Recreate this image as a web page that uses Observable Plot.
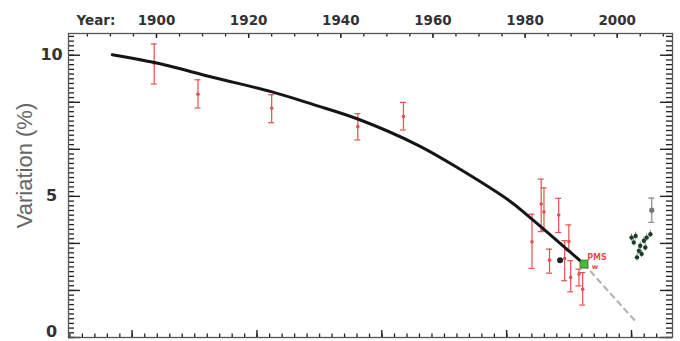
<!DOCTYPE html>
<html>
<head>
<meta charset="utf-8">
<script src="https://cdn.jsdelivr.net/npm/d3@7"></script>
<script src="https://cdn.jsdelivr.net/npm/@observablehq/plot@0.6"></script>
<style>
  body { margin: 0; background: #fff; }
  #chart svg { display: block; }
</style>
</head>
<body>
<div id="chart"></div>
<script>
// Historical measurements (red, with error bars)
const redYear = [1899.5, 1909, 1925, 1943.7, 1953.6, 1981.5, 1983.5, 1984.1, 1985.3, 1987.3, 1988.6, 1989.5, 1989.9, 1991.7, 1992.5];
const redValue = [9.72, 8.62, 8.12, 7.47, 7.83, 3.39, 4.73, 4.45, 2.74, 4.34, 2.8, 3.4, 2.13, 2.25, 1.71];
const redLow = [8.98, 8.13, 7.61, 7.0, 7.35, 2.45, 3.75, 3.8, 2.28, 3.72, 2.01, 3.07, 1.62, 1.83, 1.15];
const redHigh = [10.4, 9.13, 8.6, 7.93, 8.33, 4.37, 5.61, 5.3, 3.13, 4.93, 3.43, 3.99, 2.72, 2.42, 2.3];

// Model trend (solid) and its extrapolation (dashed)
const trendYear = [1890.4, 1899.6, 1912.4, 1924.9, 1934.1, 1943.7, 1956.9, 1966, 1976.8, 1981.1, 1992.8];
const trendValue = [10.02, 9.74, 9.21, 8.71, 8.25, 7.74, 6.8, 5.95, 4.82, 4.25, 2.6];
const extrapYear = [1992.8, 1998.3, 2003.9];
const extrapValue = [2.6, 1.6, 0.59];

// Single reference points
const blackYear = [1987.6];
const blackValue = [2.74];
const greenYear = [1992.8];
const greenValue = [2.6];
const greyYear = [2007.5];
const greyValue = [4.51];
const greyLow = [4.08];
const greyHigh = [4.94];

// Recent cluster of measurements
const recentYear = [2003.1, 2003.6, 2004.0, 2004.3, 2004.7, 2005.0, 2005.3, 2005.8, 2006.1, 2006.4, 2007.2];
const recentValue = [3.54, 3.37, 3.6, 2.84, 3.07, 3.25, 2.96, 3.43, 3.19, 3.54, 3.66];

// Axis ticks and labels
const topLabelYears = [1900, 1920, 1940, 1960, 1980, 2000];
const topMinorYears = d3.range(1885, 2011, 5);
const yLabels = [5, 10];
const yZeroLabel = [0];
const yMajor = d3.range(0, 7).map(k => k * 5 / 3);
const yMinor = d3.range(0, 65).map(k => k / 6);
// lower axis belongs to a secondary unit; its ticks sit on a different grid
const bottomMajor = d3.range(0, 5).map(k => 1894.7 + k * 27.1);
const bottomMinor = d3.range(0, 48).map(k => 1881.2 + k * 2.71);

const red = d3.range(redYear.length).map(i => ({year: redYear[i], value: redValue[i], lo: redLow[i], hi: redHigh[i]}));
const trend = trendYear.map((t, i) => ({year: t, value: trendValue[i]}));
const extrap = extrapYear.map((t, i) => ({year: t, value: extrapValue[i]}));
const recent = recentYear.map((t, i) => ({year: t, value: recentValue[i]}));
const grey = greyYear.map((t, i) => ({year: t, value: greyValue[i], lo: greyLow[i], hi: greyHigh[i]}));

const W = 680, H = 341, mL = 68, mR = 8, mT = 33, mB = 4;
const fw = W - mL - mR, fh = H - mT - mB;
const xDomain = [1880.9, 2012];
const yearsPerPx = (xDomain[1] - xDomain[0]) / fw;
const redColor = "#e2504f";
const tickColor = "#222";
const labelFont = "DejaVu Sans";
const labelStyle = {fontWeight: "bold", fontFamily: labelFont, fill: "#333"};

// side ticks expressed as short horizontal rules hugging the frame
const sideTicks = (values, len, side, width) => Plot.ruleY(values, {
  y: d => d,
  x1: side === "left" ? xDomain[0] : xDomain[1] - len * yearsPerPx,
  x2: side === "left" ? xDomain[0] + len * yearsPerPx : xDomain[1],
  stroke: tickColor,
  strokeWidth: width
});

const chart = Plot.plot({
  width: W,
  height: H,
  marginLeft: mL,
  marginRight: mR,
  marginTop: mT,
  marginBottom: mB,
  style: {background: "white", overflow: "visible"},
  x: {domain: xDomain, axis: null},
  y: {domain: [0, 10.77], axis: null},
  marks: [
    // ticks on all four sides, pointing inward
    Plot.tickX(topLabelYears, {x: d => d, insetBottom: fh - 5, stroke: tickColor, strokeWidth: 1.4}),
    Plot.tickX(topMinorYears, {x: d => d, insetBottom: fh - 3.5, stroke: tickColor, strokeWidth: 1.3}),
    Plot.tickX(bottomMajor, {x: d => d, insetTop: fh - 7, stroke: tickColor, strokeWidth: 1.4}),
    Plot.tickX(bottomMinor, {x: d => d, insetTop: fh - 3.5, stroke: tickColor, strokeWidth: 1.3}),
    sideTicks(yMinor, 6, "left", 1.3),
    sideTicks(yMinor, 6, "right", 1.3),
    sideTicks(yMajor, 12, "left", 1.4),
    sideTicks(yMajor, 12, "right", 1.4),
    Plot.frame({stroke: "#555", strokeWidth: 1.3}),

    // extrapolated trend
    Plot.line(extrap, {x: "year", y: "value", stroke: "#b5b5b5", strokeWidth: 2.2, strokeDasharray: "5,5"}),

    // red measurements with error bars
    Plot.ruleX(red, {x: "year", y1: "lo", y2: "hi", stroke: redColor, strokeWidth: 1.2}),
    Plot.ruleY(red, {y: "lo", x1: "year", x2: "year", insetLeft: -3, insetRight: -3, stroke: redColor, strokeWidth: 1.2}),
    Plot.ruleY(red, {y: "hi", x1: "year", x2: "year", insetLeft: -3, insetRight: -3, stroke: redColor, strokeWidth: 1.2}),
    Plot.dot(red, {x: "year", y: "value", r: 1.8, fill: redColor}),

    // solid trend
    Plot.line(trend, {x: "year", y: "value", curve: "catmull-rom", stroke: "#151515", strokeWidth: 3}),

    // single markers
    Plot.dot(blackYear.map((t, i) => ({year: t, value: blackValue[i]})), {x: "year", y: "value", r: 3, fill: "#222"}),
    Plot.dot(greenYear.map((t, i) => ({year: t, value: greenValue[i]})), {x: "year", y: "value", symbol: "square", r: 4.5, fill: "#4cb83a", stroke: "#2d6a25", strokeWidth: 0.8}),
    Plot.text(["PMS"], {x: greenYear[0], y: greenValue[0], dx: 13, dy: -7, fill: redColor, fontSize: 8, fontWeight: "bold", fontFamily: labelFont}),
    Plot.text(["w"], {x: greenYear[0], y: greenValue[0], dx: 11, dy: 3, fill: redColor, fontSize: 7, fontWeight: "bold", fontFamily: labelFont}),

    // recent cluster
    Plot.ruleX(recent, {x: "year", y1: d => d.value - 0.13, y2: d => d.value + 0.13, stroke: "#7a8a7a", strokeWidth: 1}),
    Plot.dot(recent, {x: "year", y: "value", r: 2.2, fill: "#1e3d26"}),

    // grey point
    Plot.ruleX(grey, {x: "year", y1: "lo", y2: "hi", stroke: "#888", strokeWidth: 1.2}),
    Plot.ruleY(grey, {y: "lo", x1: "year", x2: "year", insetLeft: -3, insetRight: -3, stroke: "#888", strokeWidth: 1.2}),
    Plot.ruleY(grey, {y: "hi", x1: "year", x2: "year", insetLeft: -3, insetRight: -3, stroke: "#888", strokeWidth: 1.2}),
    Plot.dot(grey, {x: "year", y: "value", r: 2.6, fill: "#777"}),

    // axis labels
    Plot.text(topLabelYears, {x: d => d, frameAnchor: "top", lineAnchor: "middle", dy: -12.5, text: d => String(d), fontSize: 13.5, ...labelStyle}),
    Plot.text(["Year:"], {frameAnchor: "top-left", lineAnchor: "middle", dx: 8, dy: -12.5, textAnchor: "start", fontSize: 13.5, ...labelStyle}),
    Plot.text(yLabels, {y: d => d, frameAnchor: "left", lineAnchor: "middle", dx: -17, textAnchor: "middle", text: d => String(d), fontSize: 16, ...labelStyle}),
    Plot.text(yZeroLabel, {y: d => d, frameAnchor: "left", lineAnchor: "middle", dx: -17, dy: -6, textAnchor: "middle", text: d => String(d), fontSize: 16, ...labelStyle}),
    Plot.text(["Variation (%)"], {frameAnchor: "left", textAnchor: "middle", lineAnchor: "middle", dx: -44, dy: -20, rotate: -90, fontSize: 22, fontFamily: "Liberation Sans", fill: "#666"})
  ]
});

document.getElementById("chart").append(chart);
</script>
</body>
</html>
